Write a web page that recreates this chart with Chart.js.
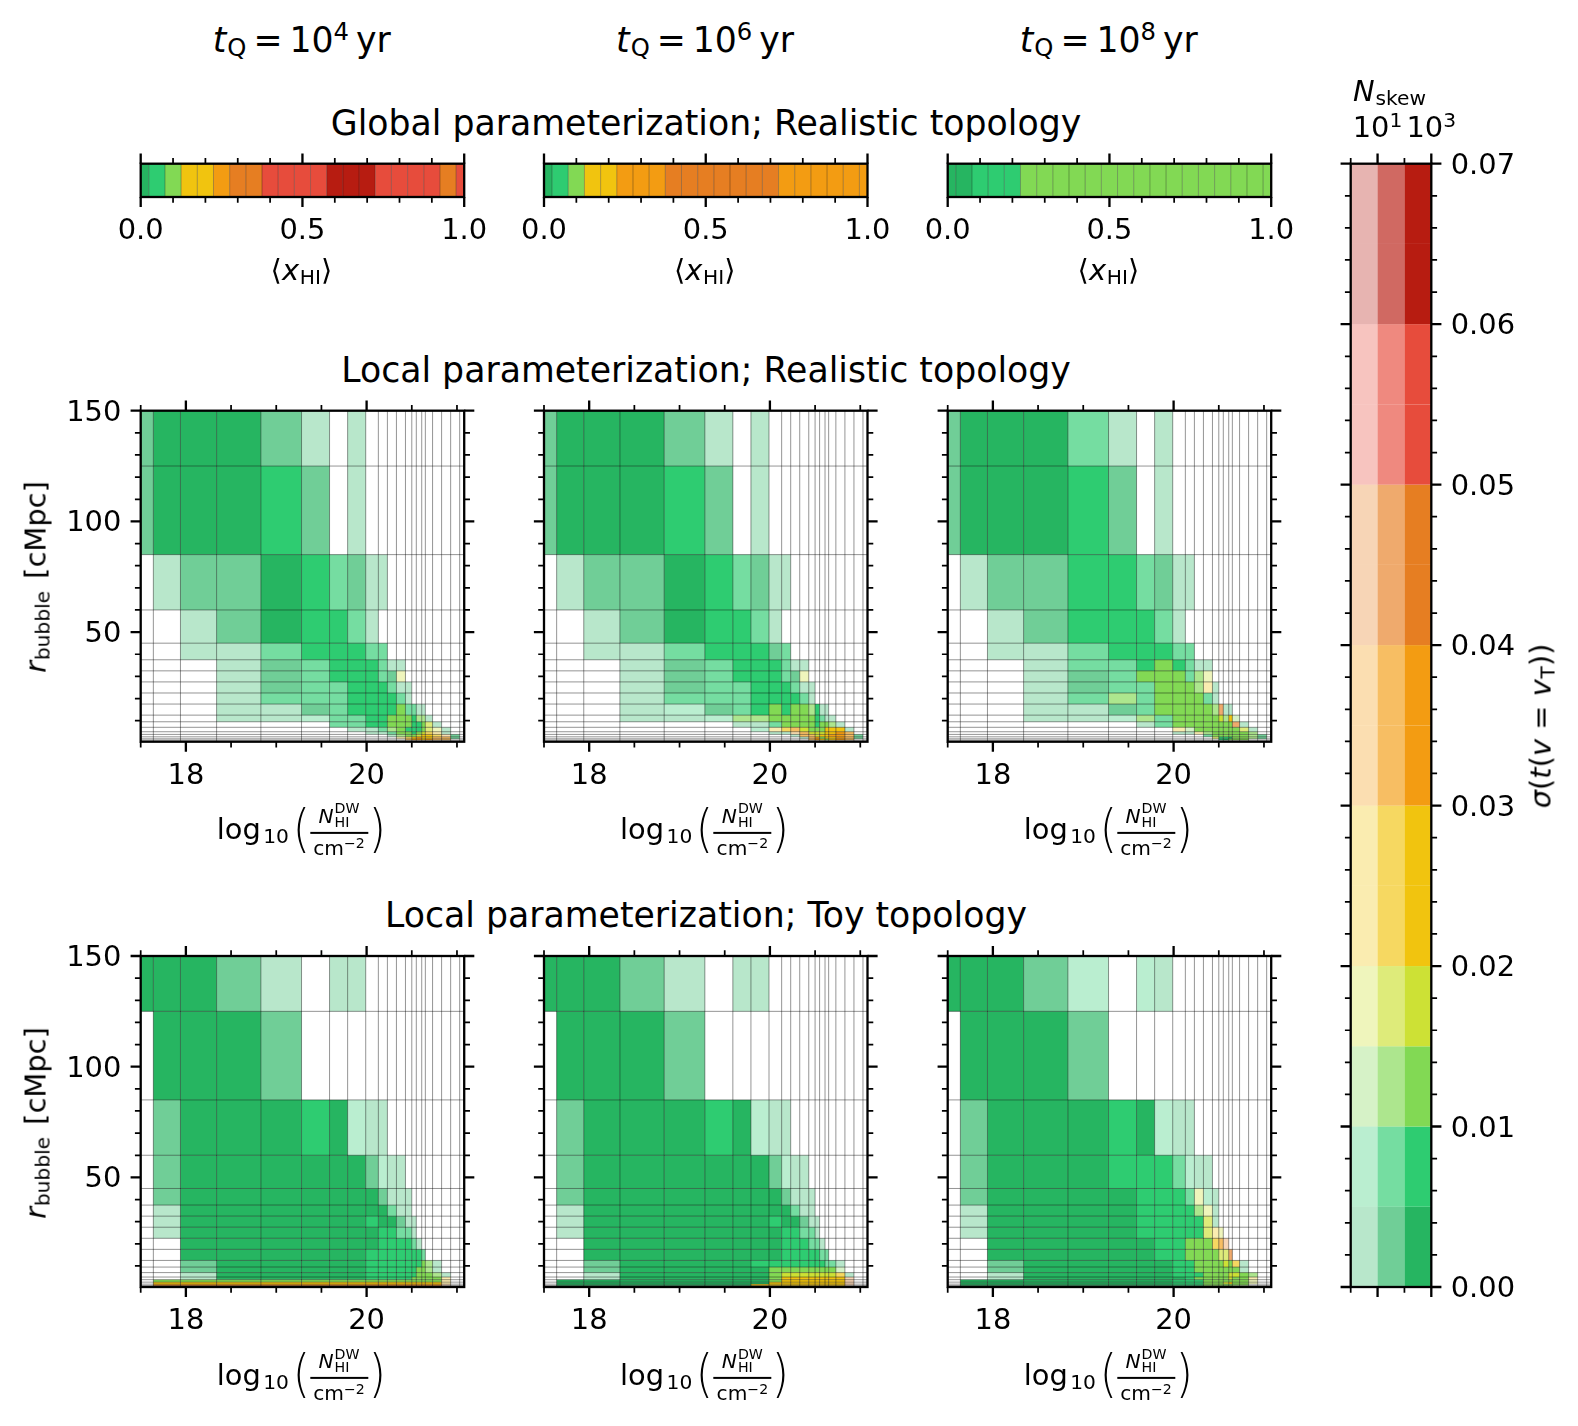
<!DOCTYPE html>
<html><head><meta charset="utf-8">
<style>
html,body{margin:0;padding:0;background:#fff}
#fig{position:relative;width:1578px;height:1426px;overflow:hidden;background:#fff;font-family:"DejaVu Sans";color:#000}
canvas{position:absolute}
.t{position:absolute;white-space:nowrap;line-height:1em}
.sub{font-size:.7em;position:relative;top:.2em;line-height:0;margin-left:.04em}
.sup{font-size:.7em;position:relative;top:-.46em;line-height:0}
.loglab{position:absolute;display:inline-flex;align-items:center;white-space:nowrap;font-size:28.9px;line-height:1em;transform:translate(-50%,-50%)}
.par{font-size:52px;display:inline-block;transform:scaleX(.85);line-height:1em;margin:0 -3px;position:relative;top:-2px;font-weight:200}
.frac{display:inline-flex;flex-direction:column;align-items:center;font-size:20.2px;line-height:1em;margin:0 2px}
.num{display:inline-flex;align-items:center;padding-bottom:2px;height:28px}
.stack{display:inline-flex;flex-direction:column;font-size:14.2px;line-height:.95em;margin-left:1px;align-items:flex-start}
.den{border-top:2.2px solid #000;padding:4px 3px 0 3px}
</style>
<script src="https://cdn.jsdelivr.net/npm/chart.js@4"></script>
</head><body><div id="fig"></div>
<script>
// ---------- categories and edges ----------
const columnEdges = [17.5,17.64,17.94,18.34,18.83,19.28,19.59,19.79,19.99,20.13,20.23,20.33,20.43,20.5,20.55,20.61,20.65,20.73,20.83,20.93,21.03,21.08];
const rowEdges = [150,125,85,60,45,37.5,32.5,27.5,22.5,17.5,12.5,9.5,7,5,3.8,2.7,1.8,1.2,0.5];
const xHIEdges = [0,0.025,0.075,0.125,0.175,0.225,0.275,0.325,0.375,0.425,0.475,0.525,0.575,0.625,0.675,0.725,0.775,0.825,0.875,0.925,0.975,1];
const sigmaEdges = [0,0.005,0.01,0.015,0.02,0.025,0.03,0.035,0.04,0.045,0.05,0.055,0.06,0.065,0.07];
const nskewEdges = [1,10,100,1000];
// ---------- tick labels ----------
const tQTitles = ["4","6","8"];
const logNMajorTicks = [18,20];
const logNMinorTicks = [17.5,18.5,19,19.5,20.5,21];
const rMajorTicks = [50,100,150];
const rMinorTicks = [10,20,30,40,60,70,80,90,110,120,130,140];
const xHIMajorTicks = [0,0.5,1];
const xHIMinorTicks = [0.1,0.2,0.3,0.4,0.6,0.7,0.8,0.9];
const sigmaMajorTicks = [0,0.01,0.02,0.03,0.04,0.05,0.06,0.07];
const sigmaMinorTicks = [0.002,0.004,0.006,0.008,0.012,0.014,0.016,0.018,0.022,0.024,0.026,0.028,0.032,0.034,0.036,0.038,0.042,0.044,0.046,0.048,0.052,0.054,0.056,0.058,0.062,0.064,0.066,0.068];
const nskewMajorTicks = [10,1000];
const nskewMinorTicks = [1,100];
const nskewTickExponents = ["1","3"];
// ---------- series: sigma band for the colourbar ----------
const sigmaBands = [1,2,3,4,5,5,6,6,7,7,8,8,9,9];
// global: sigma band per <xHI> bin
const globalBands4 = [1,2,3,5,5,6,7,7,8,8,8,8,9,9,9,8,8,8,8,7,8];
const globalBands6 = [1,2,3,5,5,6,6,6,7,7,7,7,7,7,7,6,6,6,6,6,6];
const globalBands8 = [1,1,2,2,2,3,3,3,3,3,3,3,3,3,3,3,3,3,3,3,3];
// local: each code = 10*sigma band + Nskew level (1,2,3 = 10^1,10^2,10^3); 0 = empty. Rows top to bottom.
const localReal4 = [
[12,13,13,13,12,11,0,11],
[12,13,13,13,23,12,0,11],
[0,11,12,12,13,23,22,12,11,11],
[0,0,11,12,13,23,23,22,11],
[0,0,11,11,22,23,23,23,22,22],
[0,0,0,11,12,22,23,23,23,22,11,11],
[0,0,0,11,12,22,23,23,23,22,12,41],
[0,0,0,11,12,22,22,23,23,23,22,11,11],
[0,0,0,11,22,22,22,23,23,23,23,22,11],
[0,0,0,11,11,12,22,23,23,23,23,33,22,22,11,11],
[0,0,0,11,11,21,22,22,23,23,33,33,33,23,32,32,11],
[0,0,0,0,0,0,22,22,23,23,33,33,33,23,23,33,42,11],
[0,0,0,0,0,0,0,11,11,22,32,33,23,23,23,33,42,41,11],
[0,0,0,0,0,0,0,0,11,21,22,33,33,23,33,43,52,51,11],
[0,0,0,0,0,0,0,0,0,0,11,32,33,33,43,53,53,52,61,12],
[0,0,0,0,0,0,0,0,0,0,0,51,52,53,63,53,53,62,62,12],
[0,0,0,0,0,0,0,0,0,0,0,0,62,63,63,53,63,62,62],
[]];
const localReal6 = [
[12,13,13,13,12,11,0,11],
[12,13,13,13,23,12,0,11],
[0,11,12,12,13,23,22,12,11,11],
[0,0,11,12,13,23,23,22,11],
[0,0,11,11,22,23,23,23,12,22],
[0,0,0,11,12,22,23,23,23,22,11,11],
[0,0,0,11,12,22,23,23,23,22,12,41],
[0,0,0,11,12,22,22,23,23,23,22,11,11],
[0,0,0,11,22,22,22,23,23,23,23,22,11],
[0,0,0,11,21,12,22,23,33,23,33,33,32,23,11,11],
[0,0,0,11,11,21,32,32,33,33,33,33,33,23,22,11,11],
[0,0,0,0,0,0,11,11,22,33,33,33,33,23,33,33,32,11],
[0,0,0,0,0,0,0,21,51,52,62,43,33,33,33,53,53,53,11],
[0,0,0,0,0,0,0,0,11,21,61,62,43,43,43,53,53,63,62],
[0,0,0,0,0,0,0,0,0,0,11,62,62,43,53,53,63,63,62,12],
[0,0,0,0,0,0,0,0,0,0,0,11,62,63,33,53,53,63,62,12],
[0,0,0,0,0,0,0,0,0,0,0,0,62,63,53,33,53,63,62],
[]];
const localReal8 = [
[12,13,13,13,22,11,0,11],
[12,13,13,13,23,12,0,11],
[0,11,12,12,23,23,22,12,11,11],
[0,0,11,12,23,23,23,22,11],
[0,0,11,11,22,23,23,23,22,22],
[0,0,0,11,22,22,23,33,23,22,11,11],
[0,0,0,11,12,22,33,33,33,22,32,41],
[0,0,0,11,12,22,22,33,33,33,32,51,11],
[0,0,0,11,22,32,22,33,33,33,33,22,11],
[0,0,0,11,11,12,22,33,33,33,33,33,32,72,11,11],
[0,0,0,11,11,21,32,22,33,33,33,33,33,43,32,53,31],
[0,0,0,0,0,0,11,22,33,33,33,33,33,33,33,33,72,11],
[0,0,0,0,0,0,0,0,51,31,33,33,33,33,33,33,33,42,11],
[0,0,0,0,0,0,0,0,11,11,51,32,33,33,33,33,33,33,32],
[0,0,0,0,0,0,0,0,0,0,0,22,33,33,33,33,33,33,32,12],
[0,0,0,0,0,0,0,0,0,0,0,0,42,23,23,13,33,33,32,12],
[0,0,0,0,0,0,0,0,0,0,0,0,0,23,13,33,33,33],
[]];
const toyLocal4 = [
[13,13,13,12,11,0,11,11],
[0,13,13,13,12],
[0,12,13,13,13,23,13,21,11,11],
[0,12,13,13,13,13,13,13,12,21,11,11],
[0,12,13,13,13,13,13,13,13,12,11,11,11],
[0,11,13,13,13,13,13,13,13,13,22,11,11],
[0,11,13,13,13,13,13,13,23,13,13,12,11,11],
[0,11,13,13,13,13,13,13,13,23,23,22,22,11],
[0,0,13,13,13,13,13,13,13,23,23,23,23,22,11],
[0,0,13,13,13,13,13,13,23,23,23,23,23,23,23,22],
[0,0,12,13,13,13,13,13,23,23,23,23,23,23,23,33,32,11],
[0,0,12,13,13,13,13,13,23,23,23,23,23,23,33,33,32,11],
[0,0,11,13,13,13,13,13,23,23,23,23,23,23,33,33,33,32,11],
[0,0,11,13,13,13,13,13,23,23,23,23,23,33,33,33,33,33,51],
[0,33,33,33,33,33,33,33,33,33,33,33,33,33,33,33,33,33,51],
[0,53,53,53,53,53,53,53,53,53,53,53,53,53,53,53,53,53,51],
[0,63,63,63,63,63,63,63,63,63,63,63,63,63,63,63,63,63,71],
[0,73,73,73,73,73,73,73,73,73,73,73,73,73,73,73,73,73]];
const toyLocal6 = [
[13,13,13,12,11,0,11,11],
[0,13,13,13,12],
[0,12,13,13,13,23,13,21,11,11],
[0,12,13,13,13,13,13,13,12,21,11,11],
[0,12,13,13,13,13,13,13,13,12,11,11,11],
[0,11,13,13,13,13,13,13,13,13,22,11,11],
[0,11,13,13,13,13,13,13,23,13,13,12,11,11],
[0,11,13,13,13,13,13,13,13,23,23,22,22,11],
[0,0,13,13,13,13,13,13,13,23,23,23,22,22,11],
[0,0,13,13,13,13,13,13,13,23,23,23,23,23,22,22],
[0,0,12,13,13,13,13,23,23,23,23,23,23,23,23,22,22,11],
[0,0,12,13,13,13,13,13,33,33,33,33,33,33,33,33,33,31],
[0,0,11,13,13,13,13,13,33,43,43,43,43,43,43,43,43,52,11],
[0,0,11,13,13,13,13,13,33,53,53,53,53,53,53,53,53,53,71],
[0,13,13,13,13,13,13,13,33,53,53,53,53,53,53,53,53,53,71],
[0,13,13,13,13,13,13,13,53,53,53,53,53,53,53,53,53,53,71],
[0,13,13,13,13,13,13,53,53,53,53,53,53,53,53,53,53,53,71],
[0,13,13,13,13,13,13,53,53,53,53,53,53,53,53,53,53,53]];
const toyLocal8 = [
[13,13,13,12,21,0,21,11],
[0,13,13,13,12],
[0,12,13,13,13,23,13,21,11,11],
[0,12,13,13,13,23,23,23,22,21,11,11],
[0,12,13,13,13,13,23,23,23,22,41,21,11],
[0,11,13,13,13,13,23,23,23,23,32,41,11],
[0,11,13,13,13,13,23,23,23,23,23,42,11],
[0,11,13,13,13,13,23,23,23,23,23,42,51,41],
[0,0,13,13,13,13,13,23,23,33,33,33,52,62,71],
[0,0,13,13,13,13,13,23,23,33,33,33,33,42,42,72],
[0,0,12,13,13,13,13,13,23,23,33,33,33,33,43,33,52,11],
[0,0,12,13,13,13,13,13,23,23,33,33,33,33,33,33,33,11],
[0,0,11,13,13,13,13,13,23,23,23,33,33,33,33,43,43,33,32],
[0,0,11,13,13,13,13,13,13,23,33,33,33,33,33,43,33,33,51],
[0,13,13,13,13,13,13,13,23,23,23,33,33,33,33,33,33,33,41],
[0,13,13,13,13,13,13,13,23,23,23,33,33,33,43,53,33,33,41],
[0,13,13,13,13,13,13,13,23,23,23,33,33,33,33,33,33,33],
[0,13,13,13,13,13,13,13,23,23,23,33,33,33,33,33]];

// ---------- styles ----------
const BAND_RGB = [null,[38,181,97],[46,204,113],[130,217,84],[205,225,53],[241,196,15],[243,156,18],[230,126,34],[231,76,60],[183,28,17]];
const SKEW_ALPHA = [0,0.33,0.66,1];
const PXPT = 2.89;
const TICK = {majorLen:3.5*PXPT, minorLen:2*PXPT, majorW:0.8*PXPT, minorW:0.6*PXPT};
const FONT = 28.9, TITLE = 34.7;
const fig = document.getElementById('fig');

function fill(band,skew){const c=BAND_RGB[band];return `rgba(${c[0]},${c[1]},${c[2]},${SKEW_ALPHA[skew]})`;}

const cellPlugin = {
  id:'cellPanel',
  afterDatasetsDraw(chart,args,o){
    const {ctx,chartArea:a,scales:{x,y}} = chart;
    ctx.save();
    for(const c of chart.data.datasets[0].data){
      const x0=x.getPixelForValue(c.x0),x1=x.getPixelForValue(c.x1),y0=y.getPixelForValue(c.y0),y1=y.getPixelForValue(c.y1);
      ctx.fillStyle=fill(c.band,c.skew);
      ctx.fillRect(x0,y0,x1-x0,y1-y0);
    }
    ctx.strokeStyle=o.gridColor||'rgba(0,0,0,0.42)';ctx.lineWidth=o.gridWidth||1;
    for(const v of (o.vLines||[])){const p=x.getPixelForValue(v);ctx.beginPath();ctx.moveTo(p,a.top);ctx.lineTo(p,a.bottom);ctx.stroke();}
    for(const v of (o.hLines||[])){const p=y.getPixelForValue(v);ctx.beginPath();ctx.moveTo(a.left,p);ctx.lineTo(a.right,p);ctx.stroke();}
    ctx.strokeStyle='#000';
    const xt=(vals,len,w)=>{ctx.lineWidth=w;for(const v of vals){const p=x.getPixelForValue(v);
      ctx.beginPath();ctx.moveTo(p,a.top);ctx.lineTo(p,a.top-len);ctx.moveTo(p,a.bottom);ctx.lineTo(p,a.bottom+len);ctx.stroke();}};
    const yt=(vals,len,w)=>{ctx.lineWidth=w;for(const v of vals){const p=y.getPixelForValue(v);
      ctx.beginPath();ctx.moveTo(a.left,p);ctx.lineTo(a.left-len,p);ctx.moveTo(a.right,p);ctx.lineTo(a.right+len,p);ctx.stroke();}};
    xt(o.xMinor||[],TICK.minorLen,TICK.minorW);xt(o.xMajor||[],TICK.majorLen,TICK.majorW);
    yt(o.yMinor||[],TICK.minorLen,TICK.minorW);yt(o.yMajor||[],TICK.majorLen,TICK.majorW);
    ctx.lineWidth=TICK.majorW;ctx.strokeRect(a.left,a.top,a.right-a.left,a.bottom-a.top);
    ctx.restore();
  }
};
Chart.register(cellPlugin);

function makeChart(box,pad,cells,xScale,yScale,panel){
  const cv=document.createElement('canvas');
  const w=Math.ceil(box.w+pad.l+pad.r),h=Math.ceil(box.h+pad.t+pad.b);
  const left=Math.floor(box.x-pad.l),top=Math.floor(box.y-pad.t);
  cv.width=w;cv.height=h;cv.style.left=left+'px';cv.style.top=top+'px';cv.style.width=w+'px';cv.style.height=h+'px';
  fig.appendChild(cv);
  const p={left:box.x-left,top:box.y-top,right:w-(box.x-left)-box.w,bottom:h-(box.y-top)-box.h};
  // each visible axis occupies the whole margin on its side, so its labels are not clipped
  [xScale,yScale].forEach(s=>{
    if(s.display===false)return;
    const side=s.position,size=p[side];p[side]=0;
    s.afterFit=a=>{if(a.isHorizontal())a.height=size;else a.width=size;a.paddingLeft=a.paddingRight=a.paddingTop=a.paddingBottom=0;};
  });
  return new Chart(cv,{type:'scatter',
    data:{datasets:[{data:cells,pointRadius:0,showLine:false}]},
    options:{responsive:false,animation:false,devicePixelRatio:1,
      layout:{padding:p},
      plugins:{legend:{display:false},tooltip:{enabled:false},cellPanel:panel},
      scales:{x:xScale,y:yScale}}});
}
function axis(o){
  const major=o.major||[];
  return {type:o.type||'linear',position:o.position,min:o.min,max:o.max,display:true,
    grid:{display:false,drawTicks:false},border:{display:false},
    afterBuildTicks:s=>{s.ticks=major.map(v=>({value:v}));},
    ticks:{display:!!o.labels,color:'#000',padding:o.padding,labelOffset:o.offset||0,autoSkip:false,maxRotation:0,minRotation:0,
      font:{family:'DejaVu Sans',size:FONT},callback:o.format||(v=>String(v))}};
}
function text(html,x,baseline,fs,extra){
  const d=document.createElement('div');d.className='t';d.innerHTML=html;d.style.fontSize=fs+'px';
  d.style.left=x+'px';d.style.top=(baseline-0.846*fs)+'px';
  d.style.transform=(extra&&extra.left)?'none':'translateX(-50%)';
  fig.appendChild(d);
}
function rotated(html,cx,cy,fs){
  const d=document.createElement('div');d.className='t';d.innerHTML=html;d.style.fontSize=fs+'px';
  d.style.left=cx+'px';d.style.top=cy+'px';d.style.transform='translate(-50%,-50%) rotate(-90deg)';
  fig.appendChild(d);
}
function logLabel(cx,cy){
  const d=document.createElement('div');d.className='loglab';d.style.left=cx+'px';d.style.top=cy+'px';
  d.innerHTML='<span>log<span class="sub" style="margin-left:.12em">10</span></span><span class="par" style="margin-left:2px">(</span><span class="frac"><span class="num"><i>N</i><span class="stack"><span>DW</span><span>HI</span></span></span><span class="den">cm<span class="sup">\u22122</span></span></span><span class="par">)</span>';
  fig.appendChild(d);
}

// ---------- layout ----------
const colX=[140.7,544,947.7], panelW=323.5;
const heatRowTop=[410.7,956], heatH=331;
const barTop=163.7, barH=33.3;
const globalSeries=[globalBands4,globalBands6,globalBands8];
const heatSeries=[[localReal4,localReal6,localReal8],[toyLocal4,toyLocal6,toyLocal8]];

// titles
colX.forEach((x,i)=>text(`<i>t</i><span class="sub">Q</span><span style="margin:0 .2em">=</span>10<span class="sup">${tQTitles[i]}</span><span style="margin-left:.2em">yr</span>`,x+panelW/2-.7,52,TITLE));
text('Global parameterization; Realistic topology',706,135,TITLE);
text('Local parameterization; Realistic topology',706,382,TITLE);
text('Local parameterization; Toy topology',706,927,TITLE);

// global bars
colX.forEach((x0,i)=>{
  const cells=globalSeries[i].map((b,k)=>({x:(xHIEdges[k]+xHIEdges[k+1])/2,y:0.5,x0:xHIEdges[k],x1:xHIEdges[k+1],y0:1,y1:0,band:b,skew:3}));
  makeChart({x:x0,y:barTop,w:panelW,h:barH},{l:40,r:40,t:14,b:60},cells,
    axis({position:'bottom',min:0,max:1,major:xHIMajorTicks,labels:true,padding:17,format:v=>v.toFixed(1)}),
    {type:'linear',min:0,max:1,display:false},
    {xMajor:xHIMajorTicks,xMinor:xHIMinorTicks,vLines:xHIEdges.slice(1,-1),gridColor:'rgba(0,0,0,0.3)'});
  text('\u27E8<i>x</i><span class="sub">HI</span>\u27E9',x0+panelW/2-1,280,FONT);
});

// heat panels
heatRowTop.forEach((yTop,r)=>{
  colX.forEach((x0,i)=>{
    const cells=[];
    heatSeries[r][i].forEach((row,ri)=>row.forEach((code,ci)=>{
      if(!code)return;
      cells.push({x:(columnEdges[ci]+columnEdges[ci+1])/2,y:(rowEdges[ri]+rowEdges[ri+1])/2,x0:columnEdges[ci],x1:columnEdges[ci+1],y0:rowEdges[ri],y1:rowEdges[ri+1],band:Math.floor(code/10),skew:code%10});
    }));
    makeChart({x:x0,y:yTop,w:panelW,h:heatH},{l:100,r:20,t:20,b:60},cells,
      axis({position:'bottom',min:17.5,max:21.08,major:logNMajorTicks,labels:true,padding:17}),
      axis({position:'left',min:0.5,max:150,major:rMajorTicks,labels:i===0,padding:19.4,offset:2.5}),
      {xMajor:logNMajorTicks,xMinor:logNMinorTicks,yMajor:rMajorTicks,yMinor:rMinorTicks,
       vLines:columnEdges.slice(1,-1),hLines:rowEdges.slice(1,-1)});
    logLabel(x0+panelW/2-2,yTop+heatH+88);
  });
  rotated('<i>r</i><span class="sub">bubble</span><span style="margin-left:.1em"> [cMpc]</span>',35.5,yTop+heatH/2+1,FONT);
});

// colourbar
const barCells=[];
sigmaBands.forEach((b,k)=>{for(let s=1;s<=3;s++){
  barCells.push({x:Math.sqrt(nskewEdges[s-1]*nskewEdges[s]),y:(sigmaEdges[k]+sigmaEdges[k+1])/2,x0:nskewEdges[s-1],x1:nskewEdges[s],y0:sigmaEdges[k+1],y1:sigmaEdges[k],band:b,skew:s});
}});
const cbar=makeChart({x:1350.7,y:163.7,w:80.6,h:1123.3},{l:15,r:100,t:50,b:15},barCells,
  axis({type:'logarithmic',position:'top',min:1,max:1000,major:nskewMajorTicks,labels:false}),
  axis({position:'right',min:0,max:0.07,major:sigmaMajorTicks,labels:true,padding:19.4,offset:2.5,format:v=>v.toFixed(2)}),
  {xMajor:nskewMajorTicks,xMinor:nskewMinorTicks,yMajor:sigmaMajorTicks,yMinor:sigmaMinorTicks});
// top-axis tick labels carry a real superscript, placed through the chart's x scale
nskewMajorTicks.forEach((v,i)=>{
  const cr=cbar.canvas.getBoundingClientRect();
  text(`10<span class="sup">${nskewTickExponents[i]}</span>`,cr.left+cbar.scales.x.getPixelForValue(v),137,FONT);
});
text('<i>N</i><span class="sub">skew</span>',1353,101,FONT,{left:true});
rotated('<i>\u03C3</i>(<i>t</i>(<i>v</i> = <i>v</i><span class="sub">T</span>))',1541,726,FONT);
</script></body></html>
